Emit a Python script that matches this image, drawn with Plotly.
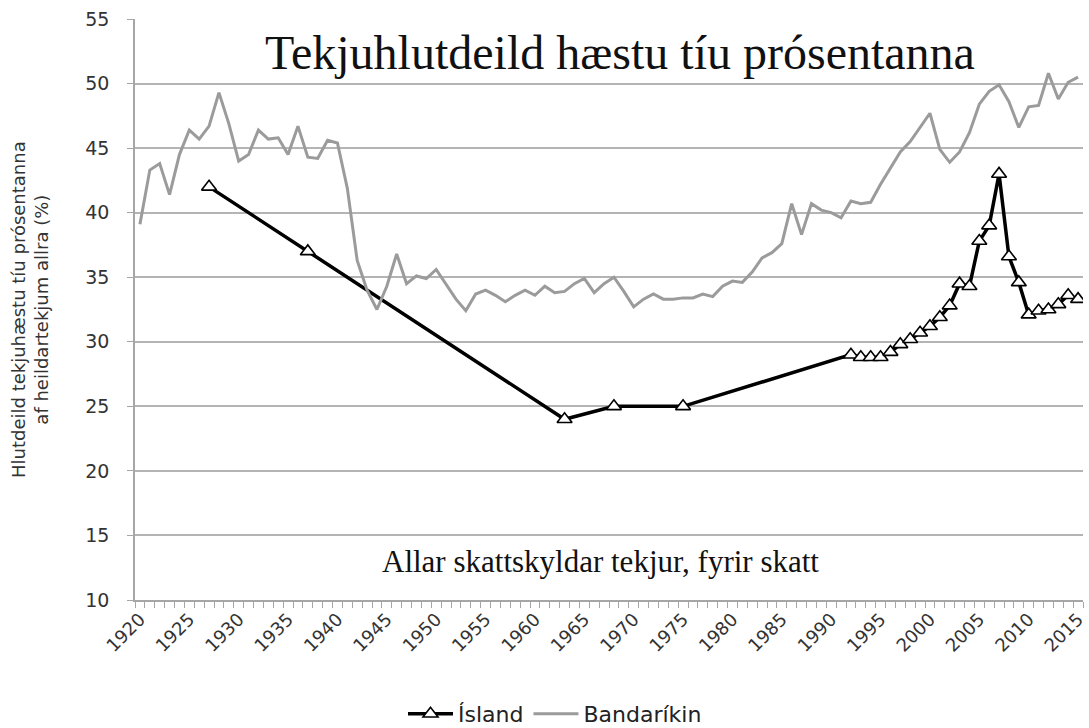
import plotly.graph_objects as go

us_years = list(range(1920, 2016))
us_values = [39.1, 43.3, 43.8, 41.4, 44.5, 46.4, 45.7, 46.7, 49.3, 46.9,
             44.0, 44.5, 46.4, 45.7, 45.8, 44.5, 46.7, 44.3, 44.2, 45.6,
             45.4, 41.9, 36.3, 34.0, 32.5, 34.3, 36.8, 34.5, 35.1, 34.9,
             35.6, 34.5, 33.3, 32.4, 33.7, 34.0, 33.6, 33.1, 33.6, 34.0,
             33.6, 34.3, 33.8, 33.9, 34.5, 34.9, 33.8, 34.5, 35.0, 33.9,
             32.7, 33.3, 33.7, 33.3, 33.3, 33.4, 33.4, 33.7, 33.5, 34.3,
             34.7, 34.6, 35.4, 36.5, 36.9, 37.6, 40.7, 38.3, 40.7, 40.2,
             40.0, 39.6, 40.9, 40.7, 40.8, 42.2, 43.5, 44.7, 45.5, 46.6,
             47.7, 44.9, 43.9, 44.7, 46.2, 48.4, 49.4, 49.9, 48.6, 46.6,
             48.2, 48.3, 50.8, 48.8, 50.1, 50.5]

is_years = [1927, 1937, 1963, 1968, 1975, 1992, 1993, 1994, 1995, 1996,
            1997, 1998, 1999, 2000, 2001, 2002, 2003, 2004, 2005, 2006,
            2007, 2008, 2009, 2010, 2011, 2012, 2013, 2014, 2015]
is_values = [42.0, 37.0, 24.0, 25.0, 25.0, 29.0, 28.8, 28.8, 28.8, 29.2,
             29.8, 30.2, 30.7, 31.2, 31.9, 32.8, 34.5, 34.3, 37.8, 39.0,
             43.0, 36.6, 34.6, 32.1, 32.4, 32.5, 32.9, 33.6, 33.3]

x_tick_vals = list(range(1920, 2016, 5))
x_tick_text = [str(v) for v in x_tick_vals]
y_tick_vals = list(range(10, 56, 5))

title_text = "Tekjuhlutdeild hæstu tíu prósentanna"
subtitle_text = "Allar skattskyldar tekjur, fyrir skatt"
y_title = "Hlutdeild tekjuhæstu tíu prósentanna<br>af heildartekjum allra (%)"

sans = "'DejaVu Sans', sans-serif"
serif = "'Liberation Serif', 'DejaVu Serif', serif"

fig = go.Figure()
fig.add_trace(go.Scatter(
    x=is_years, y=is_values, name="Ísland", mode="lines+markers",
    line=dict(color="black", width=3.5),
    marker=dict(symbol="triangle-up", size=13, color="white",
                line=dict(color="black", width=1.6)),
))
fig.add_trace(go.Scatter(
    x=us_years, y=us_values, name="Bandaríkin", mode="lines",
    line=dict(color="#9b9b9b", width=3),
))

fig.update_layout(
    width=1089, height=728,
    margin=dict(l=135, r=6, t=19, b=128, autoexpand=False),
    paper_bgcolor="white", plot_bgcolor="white",
    font=dict(family=sans, size=18, color="#333333"),
    showlegend=True,
    legend=dict(orientation="h", x=(555 - 135) / 948, xanchor="center",
                y=(600 - 714) / 581, yanchor="middle",
                font=dict(family=sans, size=22, color="#222222"),
                itemwidth=45, traceorder="normal"),
    xaxis=dict(
        range=[1919.5, 2015.5], showgrid=False, zeroline=False, automargin=False,
        tickmode="array", tickvals=x_tick_vals, ticktext=x_tick_text,
        tickangle=-45, ticks="", ticklen=0,
        showline=True, linecolor="#a6a6a6", linewidth=1.5,
        tickfont=dict(family=sans, size=18, color="#333333"),
        minor=dict(tickmode="linear", tick0=1919.5, dtick=1, ticks="outside",
                   ticklen=6, tickcolor="#a6a6a6", tickwidth=1, showgrid=False),
    ),
    yaxis=dict(
        range=[10, 55], tickmode="array", tickvals=y_tick_vals, automargin=False,
        showgrid=True, gridcolor="#b4b4b4", gridwidth=1.5, zeroline=False,
        showline=True, linecolor="#a6a6a6", linewidth=1.5,
        ticks="outside", ticklen=6, tickcolor="#a6a6a6", ticklabelstandoff=14,
        tickfont=dict(family=sans, size=19, color="#333333"),
    ),
    annotations=[
        dict(text=title_text, xref="paper", yref="paper",
             x=(620 - 135) / 948, y=(600 - 52) / 581, xanchor="center", yanchor="middle",
             showarrow=False, font=dict(family=serif, size=48, color="#111111")),
        dict(text=subtitle_text, xref="paper", yref="paper",
             x=(600 - 135) / 948, y=(600 - 561) / 581, xanchor="center", yanchor="middle",
             showarrow=False, font=dict(family=serif, size=31, color="#111111")),
        dict(text=y_title, xref="paper", yref="paper",
             x=(30 - 135) / 948, y=(600 - 310) / 581, xanchor="center", yanchor="middle",
             textangle=-90, showarrow=False,
             font=dict(family=sans, size=18, color="#333333")),
    ],
)

fig.write_html(
    "out.html",
    config={"displayModeBar": False},
    post_script="document.body.style.margin='0';document.body.style.overflow='hidden';",
)
